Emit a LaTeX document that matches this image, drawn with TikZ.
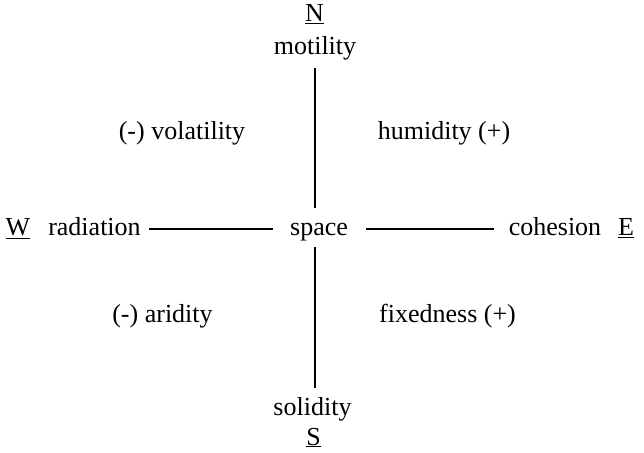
\documentclass[tikz,border=0pt]{standalone}
\usepackage{fontspec}
\setmainfont{Liberation Serif}
\usetikzlibrary{calc}
\begin{document}
\begin{tikzpicture}[x=1pt,y=1pt,
  lbl/.style={anchor=base,inner sep=0pt,font=\fontsize{26}{30}\selectfont},
  axis/.style={line width=1.5pt,black}]
\useasboundingbox (0,0) rectangle (644,452);
% north / south
\node[lbl] (N) at (314.5,430) {\underline{N}};
\node[lbl] (motility) at (315,397) {motility};
\node[lbl] (solidity) at (312.5,37) {solidity};
\node[lbl] (S) at (313.5,7) {\underline{S}};
% middle row
\node[lbl] (W) at (18,216) {\underline{W}};
\node[lbl] (radiation) at (94.5,216) {radiation};
\node[lbl] (space) at (319,216) {space};
\node[lbl] (cohesion) at (555,216) {cohesion};
\node[lbl] (E) at (626,216) {\underline{E}};
% quadrants
\node[lbl] (volatility) at (182,312) {(-) volatility};
\node[lbl] (humidity) at (444,312) {humidity (+)};
\node[lbl] (aridity) at (162.5,129) {(-) aridity};
\node[lbl] (fixedness) at (447.5,129) {fixedness (+)};
% axes
\draw[axis] ($(radiation.base east)+(8,7)$) -- ($(space.base west)+(-17,7)$);
\draw[axis] ($(space.base east)+(18,7)$) -- ($(cohesion.base west)+(-15,7)$);
\draw[axis] ($(motility.base)+(0,-13)$) -- ($(motility.base |- space.base)+(0,28)$);
\draw[axis] ($(solidity.base -| motility.base)+(0,27)$) -- ($(motility.base |- space.base)+(0,-11)$);
\end{tikzpicture}
\end{document}
